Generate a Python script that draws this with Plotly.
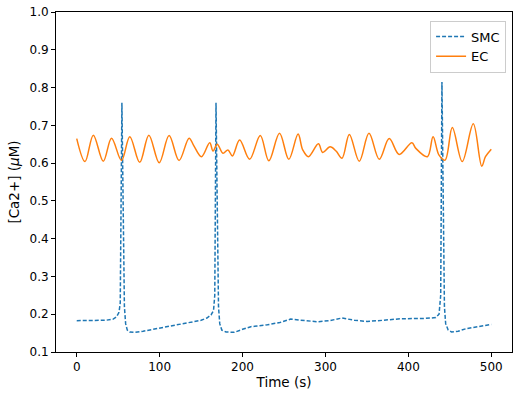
import plotly.graph_objects as go

# SMC calcium trace (time s, concentration uM)
smc_t = [0, 20, 35, 44, 48, 51, 52.5, 54.5, 56.5, 57.5, 59, 61, 64, 70, 80, 100, 120, 140, 150, 157, 162,
         165, 166.5, 168, 170, 171, 172.5, 175, 180, 190, 200, 210, 230, 245, 258, 270, 290, 305, 320, 335,
         350, 370, 390, 420, 433, 437, 439, 440.5, 442.5, 443.5, 445, 448, 452, 460, 470, 485, 500]
smc_ca = [0.183, 0.183, 0.184, 0.187, 0.193, 0.205, 0.23, 0.76, 0.35, 0.22, 0.175, 0.158, 0.153, 0.152,
          0.155, 0.163, 0.171, 0.179, 0.184, 0.19, 0.198, 0.21, 0.25, 0.76, 0.35, 0.22, 0.175, 0.158, 0.153,
          0.152, 0.16, 0.167, 0.172, 0.178, 0.187, 0.184, 0.18, 0.183, 0.19, 0.184, 0.181, 0.184, 0.188,
          0.189, 0.191, 0.2, 0.25, 0.815, 0.35, 0.22, 0.175, 0.158, 0.153, 0.155, 0.162, 0.168, 0.173]

# EC calcium trace
ec_t = [0, 10, 20, 32, 42, 54, 64, 76, 87, 99.5, 111.4, 123.4, 135.5, 141.5, 150.4, 160.4, 164.4, 169.5,
        176.4, 182.4, 187.7, 196.5, 208.5, 221.4, 231.7, 244.6, 255.8, 267, 272.6, 279.5, 291.5, 296.7,
        305.6, 312.8, 320, 328.8, 340.8, 352.5, 364.9, 376.9, 388.9, 404.2, 409, 423, 429.8, 437, 444.3,
        453, 465, 478.3, 488.5, 493, 500]
ec_ca = [0.665, 0.604, 0.674, 0.605, 0.666, 0.607, 0.670, 0.602, 0.674, 0.601, 0.673, 0.607, 0.666, 0.645,
         0.617, 0.654, 0.632, 0.650, 0.626, 0.635, 0.619, 0.661, 0.610, 0.673, 0.606, 0.679, 0.610, 0.677,
         0.635, 0.617, 0.651, 0.628, 0.643, 0.632, 0.613, 0.676, 0.605, 0.679, 0.610, 0.665, 0.623, 0.654,
         0.639, 0.617, 0.670, 0.621, 0.608, 0.694, 0.604, 0.704, 0.592, 0.617, 0.637]

x_ticks = [0, 100, 200, 300, 400, 500]
y_ticks = [0.1, 0.2, 0.3, 0.4, 0.5, 0.6, 0.7, 0.8, 0.9, 1.0]

fig = go.Figure()
fig.add_trace(go.Scatter(x=smc_t, y=smc_ca, mode="lines", name="SMC",
                         line=dict(color="#1f77b4", width=1.5, dash="4px,2px")))
fig.add_trace(go.Scatter(x=ec_t, y=ec_ca, mode="lines", name="EC",
                         line=dict(color="#ff7f0e", width=1.5, shape="spline", smoothing=1.0)))

axis_common = dict(showline=True, linecolor="black", linewidth=1, mirror=True, ticks="outside",
                   ticklen=4, tickcolor="black", showgrid=False, zeroline=False, automargin=False,
                   tickfont=dict(family="DejaVu Sans", size=12, color="black"))

fig.update_layout(
    width=519, height=396,
    margin=dict(l=56, r=7, t=12, b=44),
    paper_bgcolor="white", plot_bgcolor="white",
    font=dict(family="DejaVu Sans", size=12, color="black"),
    xaxis=dict(range=[-25, 525], tickvals=x_ticks,
               title=dict(text="Time (s)", font=dict(size=13.5), standoff=4), **axis_common),
    yaxis=dict(range=[0.1, 1.0], tickvals=y_ticks, tickformat=".1f",
               title=dict(text="[Ca2+] (<i>μ</i>M)", font=dict(size=13.5), standoff=6), **axis_common),
    legend=dict(x=0.987, y=0.975, xanchor="right", yanchor="top", bgcolor="rgba(255,255,255,0.8)",
                bordercolor="#cccccc", borderwidth=1, font=dict(size=13), tracegroupgap=2,
                itemwidth=30),
    showlegend=True,
)

fig.write_html("out.html", config={"displayModeBar": False},
               post_script="document.body.style.margin='0';document.body.style.overflow='hidden';")
